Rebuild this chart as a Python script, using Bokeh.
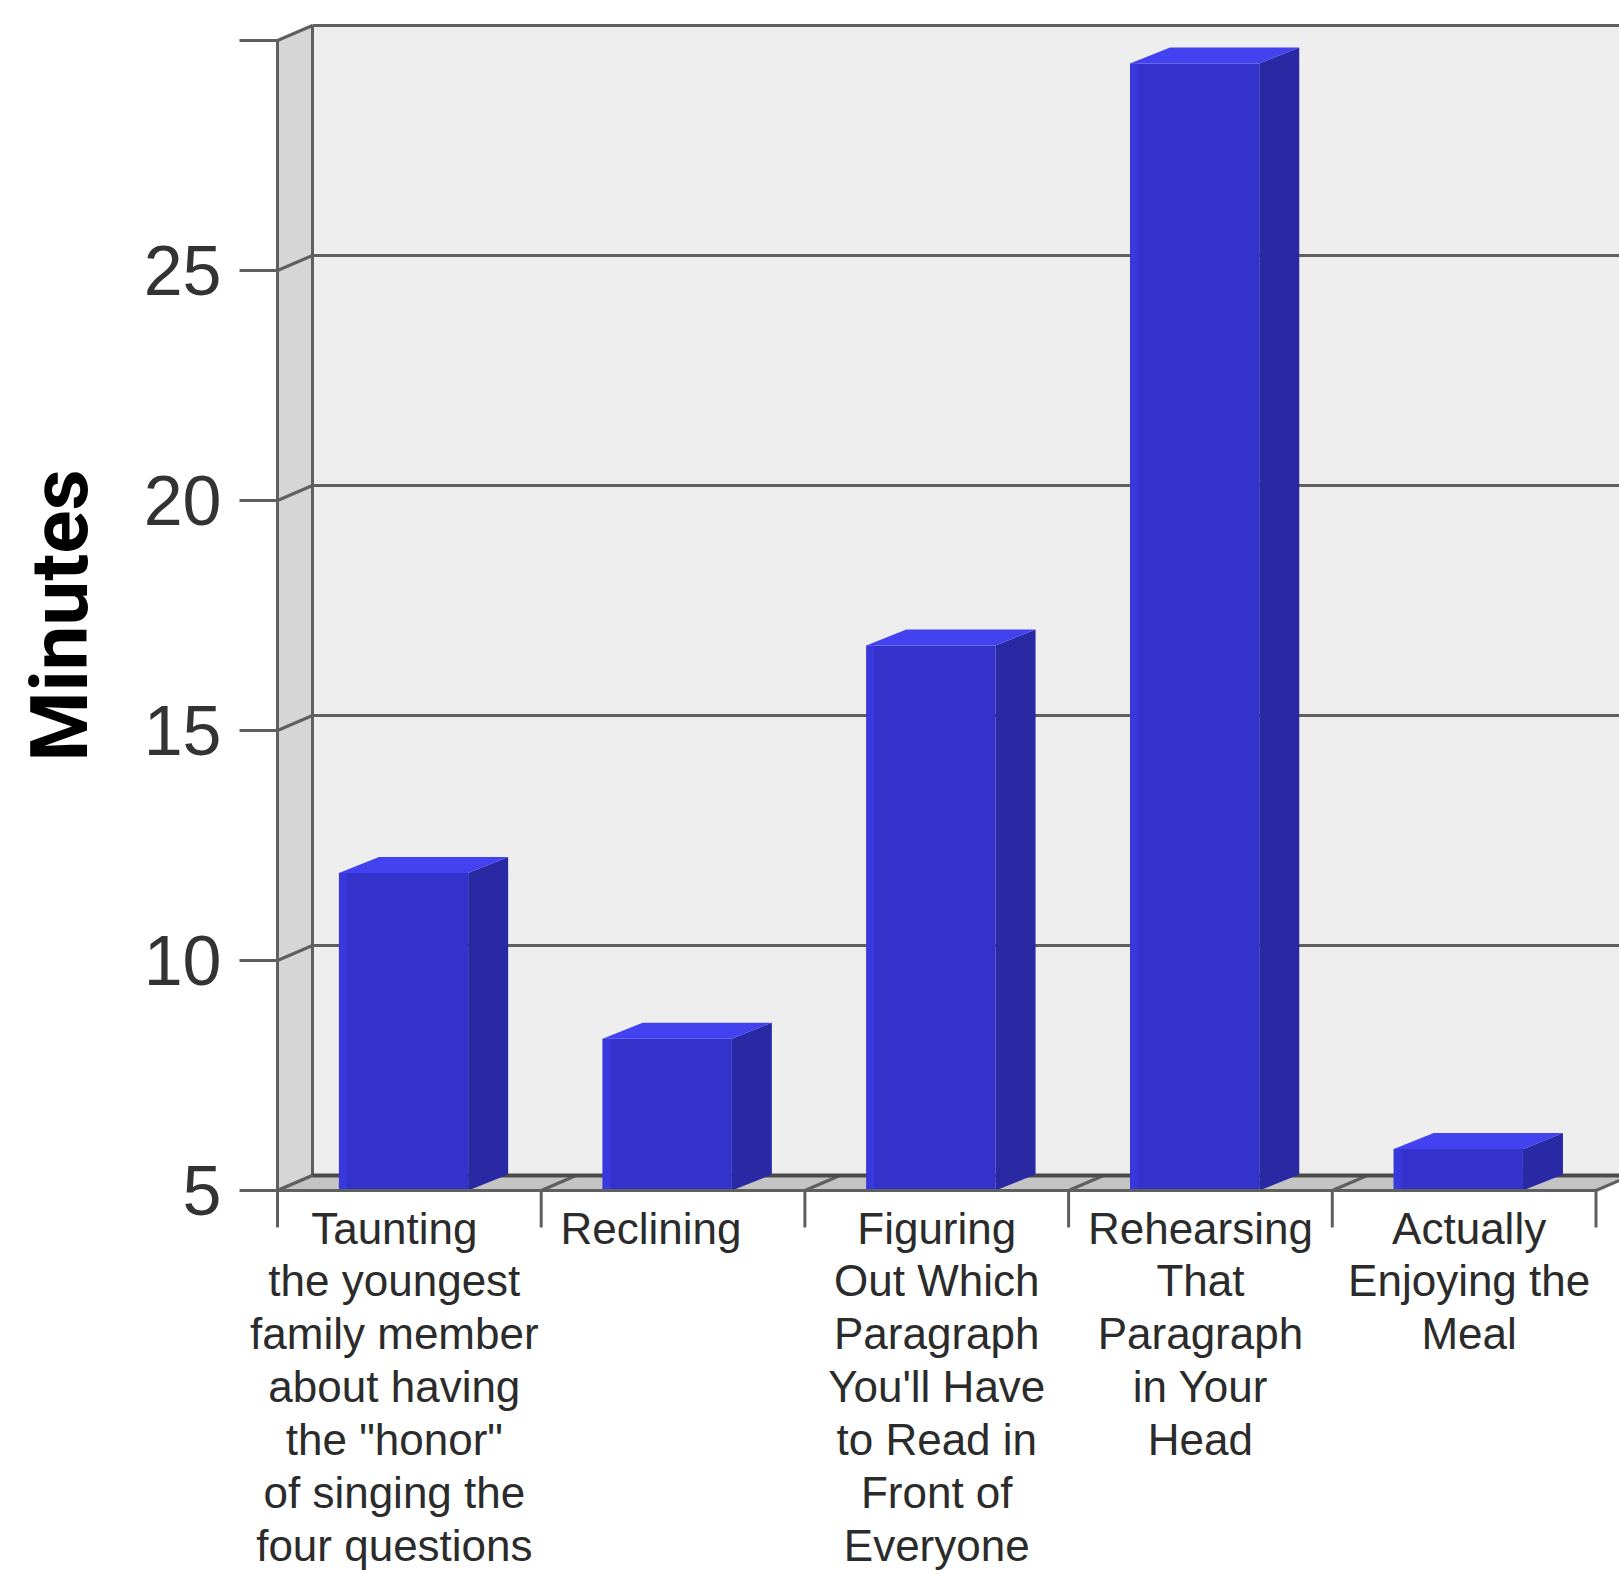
from bokeh.plotting import figure
from bokeh.models import Range1d, FixedTicker, ColumnDataSource, LinearAxis
from bokeh.core.properties import value
from bokeh.embed import file_html
from bokeh.resources import INLINE

# ---- data ----
categories = [
    "Taunting\nthe youngest\nfamily member\nabout having\nthe \"honor\"\nof singing the\nfour questions",
    "Reclining",
    "Figuring\nOut Which\nParagraph\nYou'll Have\nto Read in\nFront of\nEveryone",
    "Rehearsing\nThat\nParagraph\nin Your\nHead",
    "Actually\nEnjoying the\nMeal",
]
minutes = [11.9, 8.3, 16.85, 29.5, 5.9]
y_ticks = [5, 10, 15, 20, 25, 30]
y_tick_labels = ["5", "10", "15", "20", "25", ""]
y_label = "Minutes"

# ---- layout (pixels) ----
W, H = 1619, 1574
FL = 277            # pixel x of the front value axis
floor_px = 1190     # pixel y of the front floor edge
ux = 263.7          # px per category
uy = 46.0           # px per minute
ymin, ymax = y_ticks[0], y_ticks[-1]
n = len(categories)
x_start = -FL / ux
x_end = (W - FL) / ux
y_top = ymin + floor_px / uy
y_bot = ymin - (H - floor_px) / uy
dx = 35 / ux        # wall depth
dy = 15 / uy
bdx = 40 / ux       # bar depth
bdy = 16 / uy
tick_len = 37 / uy
bar_l, bar_r = 0.233, 0.723
label_shift_px = [-15, -22, 0, 0, 5]

LINE = "#5f5f5f"

p = figure(width=W, height=H, x_range=Range1d(x_start, x_end), y_range=Range1d(y_bot, y_top),
           output_backend="svg", toolbar_location=None, x_axis_location=None, y_axis_location=None,
           min_border=0)
p.grid.visible = False
p.outline_line_color = None
p.background_fill_color = "white"
p.border_fill_color = "white"

# walls
p.patch([0, dx, dx, 0], [ymin, ymin + dy, ymax + dy, ymax], fill_color="#d6d6d6", line_color=None)
p.quad(left=[dx], right=[x_end + 1], bottom=[ymin + dy], top=[ymax + dy], fill_color="#eeeeee", line_color=None)

# gridlines (back wall + left wall diagonals)
gx0, gy0, gx1, gy1 = [], [], [], []
for t in y_ticks:
    gx0 += [dx, 0]; gy0 += [t + dy, t]
    gx1 += [x_end + 1, dx]; gy1 += [t + dy, t + dy]
p.segment(x0=gx0, y0=gy0, x1=gx1, y1=gy1, line_color=LINE, line_width=3)
p.segment(x0=[dx], y0=[ymin + dy], x1=[dx], y1=[ymax + dy], line_color=LINE, line_width=3)

# floor
p.patch([0, n, n + dx, dx], [ymin, ymin, ymin + dy, ymin + dy], fill_color="#c4c4c4", line_color=None)
fx = list(range(n + 1))
p.segment(x0=fx, y0=[ymin] * (n + 1), x1=[x + dx for x in fx], y1=[ymin + dy] * (n + 1),
          line_color=LINE, line_width=3)
p.segment(x0=[dx], y0=[ymin + dy], x1=[x_end + 1], y1=[ymin + dy], line_color="#4a4a4a", line_width=4)

# bars
fl = [i + bar_l for i in range(n)]
fr = [i + bar_r for i in range(n)]
p.quad(left=fl, right=fr, bottom=[ymin] * n, top=minutes, fill_color="#3333cc", line_color=None)
p.quad(left=fl, right=[l + 0.03 for l in fl], bottom=[ymin] * n, top=minutes,
       fill_color="#3838dc", line_color=None)
side_xs = [[r, r + bdx, r + bdx, r] for r in fr]
side_ys = [[ymin, ymin + bdy, v + bdy, v] for v in minutes]
p.patches(side_xs, side_ys, fill_color="#2929a3", line_color=None)
top_xs = [[l, r, r + bdx, l + bdx] for l, r in zip(fl, fr)]
top_ys = [[v, v, v + bdy, v + bdy] for v in minutes]
p.patches(top_xs, top_ys, fill_color="#4242f0", line_color=None)

# front floor line + category ticks
p.segment(x0=[0], y0=[ymin], x1=[n], y1=[ymin], line_color=LINE, line_width=3)
p.segment(x0=fx, y0=[ymin] * (n + 1), x1=fx, y1=[ymin - tick_len] * (n + 1), line_color=LINE, line_width=3)

# category labels
src = ColumnDataSource(dict(x=[i + 0.5 + s / ux for i, s in zip(range(n), label_shift_px)],
                            y=[ymin - 13 / uy] * n, t=categories))
p.text(x="x", y="y", text="t", source=src, text_align="center", text_baseline="top",
       text_font=value("Liberation Sans"), text_font_size="44px", text_color="#2b2b2b",
       text_line_height=1.08)

# y axis (front value axis)
ax = LinearAxis(fixed_location=0)
ax.ticker = FixedTicker(ticks=y_ticks)
ax.major_label_overrides = {t: s for t, s in zip(y_ticks, y_tick_labels)}
ax.bounds = (ymin, ymax)
ax.axis_line_color = LINE
ax.axis_line_width = 3
ax.major_tick_line_color = LINE
ax.major_tick_line_width = 3
ax.major_tick_out = 38
ax.major_tick_in = 0
ax.minor_tick_out = 0
ax.minor_tick_in = 0
ax.major_label_standoff = 18
ax.major_label_text_font = "Liberation Sans"
ax.major_label_text_font_size = "70px"
ax.major_label_text_color = "#333333"
ax.axis_label = y_label
ax.axis_label_text_font = "Roboto"
ax.axis_label_text_font_style = "bold"
ax.axis_label_text_font_size = "80px"
ax.axis_label_text_color = "black"
ax.axis_label_standoff = 34
p.add_layout(ax, "left")

open("out.html", "w").write(file_html(p, INLINE))
